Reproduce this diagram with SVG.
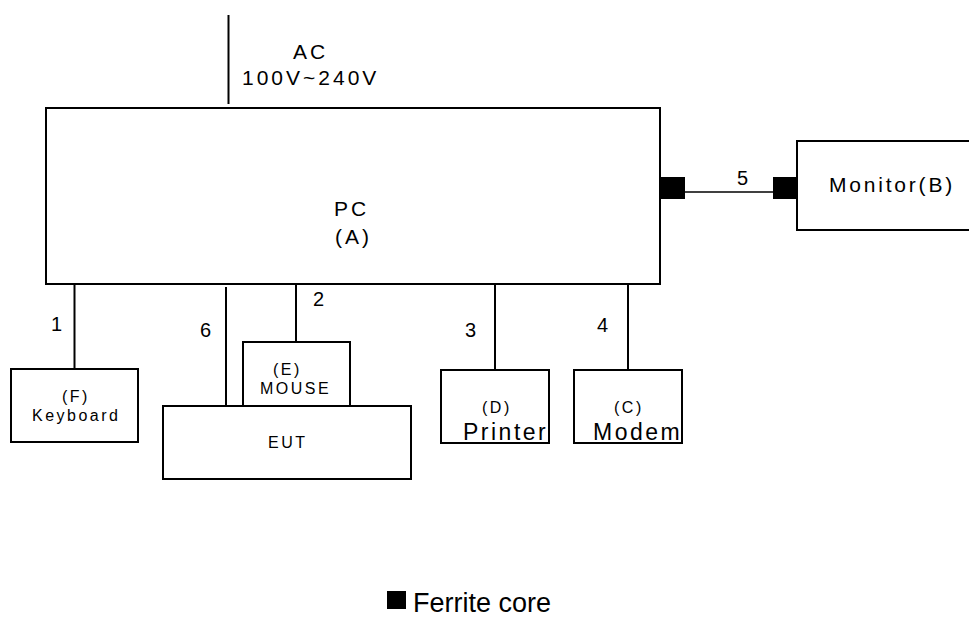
<svg xmlns="http://www.w3.org/2000/svg" width="969" height="619" viewBox="0 0 969 619">
<style>
.box{fill:#fff;stroke:#000;stroke-width:2}
.ln{stroke:#000;stroke-width:2;fill:none}
.core{fill:#000}
text{font-family:"Liberation Sans",Arial,sans-serif;fill:#000}
.lg{font-size:21px;letter-spacing:3px}
.sm{font-size:16px;letter-spacing:2.5px}
.md{font-size:23px;letter-spacing:2.5px}
.num{font-size:20px}
</style>
<rect width="969" height="619" fill="#fff"/>
<g id="connectors">
<line class="ln" x1="228.5" y1="15" x2="228.5" y2="104"/>
<line class="ln" x1="685" y1="192" x2="773" y2="192" style="stroke-width:1.5"/>
<line class="ln" x1="74.5" y1="280" x2="74.5" y2="369"/>
<line class="ln" x1="226" y1="287" x2="226" y2="406"/>
<line class="ln" x1="296" y1="279" x2="296" y2="342"/>
<line class="ln" x1="495" y1="284" x2="495" y2="370"/>
<line class="ln" x1="628" y1="284" x2="628" y2="370"/>
<text class="num" x="737" y="185">5</text>
<text class="num" x="51" y="331">1</text>
<text class="num" x="200" y="337">6</text>
<text class="num" x="313" y="306">2</text>
<text class="num" x="465" y="337">3</text>
<text class="num" x="597" y="332">4</text>
</g>
<g id="ac">
<text class="lg" x="293" y="59">AC</text>
<text class="lg" x="242" y="85">100V~240V</text>
</g>
<g id="pc">
<rect class="box" x="46" y="108" width="614" height="176"/>
<text class="lg" x="334" y="216">PC</text>
<text class="lg" x="335" y="244">(A)</text>
</g>
<g id="monitor">
<rect class="box" x="797" y="141" width="180" height="89"/>
<text class="lg" x="829" y="192" style="letter-spacing:2.8px">Monitor(B)</text>
</g>
<g id="ferrites">
<rect class="core" x="660" y="177" width="25" height="22"/>
<rect class="core" x="773" y="177" width="24" height="22"/>
</g>
<g id="keyboard">
<rect class="box" x="11" y="369" width="127" height="73"/>
<text class="sm" x="62" y="402">(F)</text>
<text class="sm" x="32" y="421">Keyboard</text>
</g>
<g id="mouse">
<rect class="box" x="243" y="342" width="107" height="64"/>
<text class="sm" x="273" y="375">(E)</text>
<text class="sm" x="260" y="394">MOUSE</text>
</g>
<g id="eut">
<rect class="box" x="163" y="406" width="248" height="73"/>
<text class="sm" x="268" y="448">EUT</text>
</g>
<g id="printer">
<rect class="box" x="441" y="370" width="108" height="73"/>
<text class="sm" x="482" y="413">(D)</text>
<text class="md" x="463" y="440">Printer</text>
</g>
<g id="modem">
<rect class="box" x="574" y="370" width="108" height="73"/>
<text class="sm" x="614" y="413">(C)</text>
<text class="md" x="593" y="440">Modem</text>
</g>
<g id="legend">
<rect class="core" x="387" y="591" width="19" height="18"/>
<text x="413" y="612" style="font-size:27px">Ferrite core</text>
</g>
</svg>
